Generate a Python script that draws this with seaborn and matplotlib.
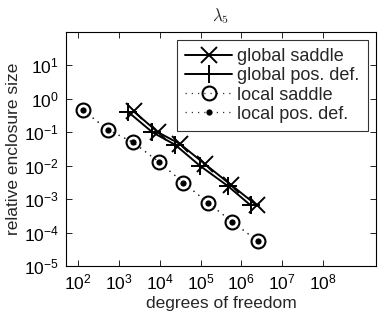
# plot.py
# Enclosure size vs degrees of freedom for lambda_5 (log-log).

import pandas as pd
import matplotlib
matplotlib.use('Agg')
import matplotlib.pyplot as plt
import seaborn as sns

# ------------------------------------------------
# Data
# ------------------------------------------------
local_dof = [130, 530, 2.2e3, 9.5e3, 3.8e4, 1.55e5, 6.0e5, 2.5e6]
local_saddle = [0.46, 0.12, 0.050, 0.013, 0.0031, 7.6e-4, 2.1e-4, 5.6e-5]
local_posdef = [0.46, 0.12, 0.050, 0.013, 0.0031, 7.6e-4, 2.1e-4, 5.6e-5]

gs_dof = [2.3e3, 9.0e3, 3.1e4, 1.3e5, 5.5e5, 2.4e6]
global_saddle = [0.42, 0.10, 0.045, 0.011, 0.0027, 6.5e-4]

gp_dof = [1.7e3, 6.6e3, 2.4e4, 9.6e4, 4.6e5, 1.7e6]
global_posdef = [0.40, 0.10, 0.042, 0.010, 0.0025, 6.5e-4]

x_ticks = [1e2, 1e3, 1e4, 1e5, 1e6, 1e7, 1e8]
y_ticks = [1e-5, 1e-4, 1e-3, 1e-2, 1e-1, 1e0, 1e1]

sns.set_style('ticks')
plt.rcParams['font.family'] = ['Liberation Sans', 'DejaVu Sans']
plt.rcParams['mathtext.fontset'] = 'custom'
plt.rcParams['mathtext.rm'] = 'Liberation Sans'
plt.rcParams['mathtext.it'] = 'Liberation Sans:italic'

fig = plt.figure(figsize=(3.88, 3.17), dpi=100)
ax = fig.add_axes([0.170, 0.161, 0.799, 0.738])

gs = pd.DataFrame({'dof': gs_dof, 'size': global_saddle})
gp = pd.DataFrame({'dof': gp_dof, 'size': global_posdef})
ls = pd.DataFrame({'dof': local_dof, 'size': local_saddle})
lp = pd.DataFrame({'dof': local_dof, 'size': local_posdef})

dotted = (0, (1, 4))

sns.lineplot(data=gs, x='dof', y='size', ax=ax, color='black', lw=1.4,
             marker='x', markersize=11, markeredgewidth=1.4,
             markeredgecolor='black', label='global saddle')
sns.lineplot(data=gp, x='dof', y='size', ax=ax, color='black', lw=1.4,
             marker='+', markersize=13, markeredgewidth=1.4,
             markeredgecolor='black', label='global pos. def.')
sns.lineplot(data=ls, x='dof', y='size', ax=ax, color='#333333', lw=0.9,
             linestyle=dotted, marker='o', markersize=10, markeredgewidth=1.5,
             markerfacecolor='none', markeredgecolor='black',
             label='local saddle')
sns.lineplot(data=lp, x='dof', y='size', ax=ax, color='#333333', lw=0.9,
             linestyle=dotted, marker='o', markersize=4.5, markeredgewidth=0,
             markerfacecolor='black', markeredgecolor='black',
             label='local pos. def.')

ax.set_xscale('log')
ax.set_yscale('log')
ax.set_xlim(50, 2e9)
ax.set_ylim(1e-5, 1e2)
ax.set_xticks(x_ticks)
ax.set_yticks(y_ticks)
ax.tick_params(which='both', direction='in', top=True, right=True,
               labelsize=12.5, colors='black')
ax.tick_params(which='major', length=4, width=0.6, pad=5)
ax.tick_params(which='minor', length=2, width=0.5)
for s in ax.spines.values():
    s.set_linewidth(0.8)
    s.set_color('black')

ax.set_xlabel('degrees of freedom', fontsize=12.5, labelpad=2)
ax.set_ylabel('relative enclosure size', fontsize=12.5, labelpad=2)
ax.set_title(r'$\lambda_5$', fontsize=12, pad=8, math_fontfamily='cm')

leg = ax.legend(loc='upper right', fontsize=13, frameon=True, fancybox=False,
                edgecolor='black', handlelength=2.6, borderpad=0.45,
                labelspacing=0.12, handletextpad=0.3, borderaxespad=0.45)
leg.get_frame().set_linewidth(0.8)

fig.savefig('out.png', dpi=100)
